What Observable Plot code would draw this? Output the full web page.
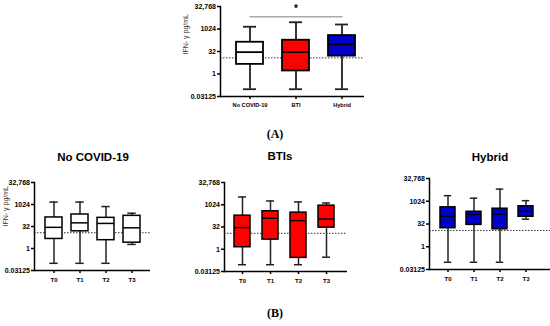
<!DOCTYPE html>
<html><head><meta charset="utf-8">
<script src="https://cdn.jsdelivr.net/npm/d3@7"></script>
<script src="https://cdn.jsdelivr.net/npm/@observablehq/plot@0.6"></script>
<style>
body{margin:0;background:#fff;}
#fig{position:relative;width:550px;height:326px;overflow:hidden;font-family:"Liberation Sans",Arial,sans-serif;}
#fig svg{position:absolute;left:0;top:0;}
.lbl{position:absolute;transform:translate(-50%,-50%);white-space:nowrap;color:#000;}
.ttl{font-weight:bold;font-size:11.5px;font-family:"Liberation Sans",Arial,sans-serif;}
.pan{font-family:"Liberation Serif","Times New Roman",serif;font-size:12px;font-weight:bold;}
</style></head><body><div id="fig"></div>
<script>
// shared axis
const yTicks = [0.03125, 1, 32, 1024, 32768];
const yTickLabels = ["0.03125", "1", "32", "1024", "32,768"];
const threshold = 12;
const yLabel = "IFN- γ pg/mL";

// Panel A
const catsA = ["No COVID-19", "BTI", "Hybrid"];
const minA = [0.096, 0.096, 0.096];
const q1A = [4.4, 1.6, 15.7];
const medA = [29, 29, 98];
const q3A = [133, 181, 373];
const maxA = [1450, 2900, 2050];
const fillA = ["#ffffff", "#ff0000", "#0000c8"];
const sigLevel = 6700;
const sigStarLevel = 22000;
const sigMark = "*";

// Panel B
const timepoints = ["T0", "T1", "T2", "T3"];
const titleB1 = "No COVID-19", titleB2 = "BTIs", titleB3 = "Hybrid";
const minB1 = [0.097, 0.097, 0.097, 1.9];
const q1B1 = [4.5, 15, 3.7, 2.5];
const medB1 = [28, 57, 52, 26];
const q3B1 = [133, 212, 125, 171];
const maxB1 = [1500, 1500, 740, 260];

const minB2 = [0.09, 0.09, 0.09, 0.29];
const q1B2 = [1.37, 4.5, 0.26, 29];
const medB2 = [29, 125, 86, 112];
const q3B2 = [187, 372, 300, 890];
const maxB2 = [3450, 1850, 1580, 1350];

const minB3 = [0.094, 0.094, 0.094, 67];
const q1B3 = [16.8, 28, 14.4, 96];
const medB3 = [102, 138, 145, 220];
const q3B3 = [407, 206, 328, 475];
const maxB3 = [2400, 1630, 6500, 1120];

const fig = document.getElementById("fig");
const W = 550, H = 326;

function boxPanel(o) {
  const data = o.cats.map((c, i) => ({c, min: o.min[i], q1: o.q1[i], med: o.med[i], q3: o.q3[i], max: o.max[i], fill: o.fill[i]}));
  const [L, T, R, B] = o.frame;
  const sw = o.sw;
  const marks = [
    Plot.ruleY([threshold], {stroke: "#333", strokeDasharray: "1.5,1.5", strokeWidth: 1}),
    Plot.ruleX(data, {x: "c", y1: "min", y2: "max", stroke: "#222", strokeWidth: sw}),
    Plot.tickY(data, {x: "c", y: "min", stroke: "#222", strokeWidth: sw, insetLeft: o.cap, insetRight: o.cap}),
    Plot.tickY(data, {x: "c", y: "max", stroke: "#222", strokeWidth: sw, insetLeft: o.cap, insetRight: o.cap}),
    Plot.barY(data, {x: "c", y1: "q1", y2: "q3", fill: "fill", stroke: "#000", strokeWidth: sw}),
    Plot.tickY(data, {x: "c", y: "med", stroke: "#000", strokeWidth: sw}),
    Plot.frame({anchor: "left", stroke: "#000", strokeWidth: 1.5}),
    Plot.ruleY([yTicks[0]], {stroke: "#000", strokeWidth: 1.5}),
    Plot.axisY(yTicks, {tickFormat: d => yTickLabels[yTicks.indexOf(d)], tickSize: 3, tickPadding: 1.5, fontSize: 7, fontWeight: "bold", strokeWidth: 1.5, label: null}),
    Plot.axisX({tickSize: 3, tickPadding: o.xPad, fontSize: o.xFont, fontWeight: "bold", strokeWidth: 1.5, label: null})
  ];
  if (o.showLabel) {
    marks.push(Plot.text([yLabel], {text: d => d, frameAnchor: "left", dx: o.labelDx, dy: o.labelDy || 0, rotate: -90, fontSize: 7, fill: "#333"}));
  }
  if (o.extra) marks.push(...o.extra(data));
  const svg = Plot.plot({
    width: W, height: H,
    marginLeft: L, marginTop: T, marginRight: W - R, marginBottom: H - B,
    style: {background: "transparent", fontFamily: "'Liberation Sans', Arial, sans-serif", overflow: "visible"},
    x: {type: "band", domain: o.cats, range: o.range, padding: o.padding},
    y: {type: "log", base: 2, domain: [yTicks[0], yTicks[yTicks.length - 1]]},
    color: {type: "identity"},
    marks
  });
  fig.appendChild(svg);
}

// Panel A
boxPanel({
  cats: catsA, min: minA, q1: q1A, med: medA, q3: q3A, max: maxA, fill: fillA,
  frame: [220, 6, 364, 96], range: [216, 375], padding: 0.42, sw: 1.8, cap: 7,
  xPad: 4, xFont: 5.6, showLabel: true, labelDx: -35, labelDy: 3,
  extra: () => [
    Plot.line([{c: catsA[0], v: sigLevel}, {c: catsA[2], v: sigLevel}], {x: "c", y: "v", stroke: "#aaa", strokeWidth: 1.5}),
    Plot.text([{c: catsA[1], v: sigStarLevel, t: sigMark}], {x: "c", y: "v", text: "t", fontSize: 10, fontWeight: "bold"})
  ]
});

const redB = timepoints.map(() => "#ff0000");
const whiteB = timepoints.map(() => "#ffffff");
const blueB = timepoints.map(() => "#0000c8");

boxPanel({
  cats: timepoints, min: minB1, q1: q1B1, med: medB1, q3: q3B1, max: maxB1, fill: whiteB,
  frame: [34, 182, 150, 270], range: [35.2, 149.6], padding: 0.35, sw: 1.5, cap: 4.3,
  xPad: 4, xFont: 6, showLabel: true, labelDx: -29
});
boxPanel({
  cats: timepoints, min: minB2, q1: q1B2, med: medB2, q3: q3B2, max: maxB2, fill: redB,
  frame: [224, 182, 347, 271], range: [221.5, 346.9], padding: 0.43, sw: 1.5, cap: 4,
  xPad: 4, xFont: 6, showLabel: false
});
boxPanel({
  cats: timepoints, min: minB3, q1: q1B3, med: medB3, q3: q3B3, max: maxB3, fill: blueB,
  frame: [429, 178, 550, 269], range: [426.8, 546], padding: 0.43, sw: 1.5, cap: 3.8,
  xPad: 4, xFont: 6, showLabel: false
});

function label(text, x, y, cls) {
  const d = document.createElement("div");
  d.className = "lbl " + cls;
  d.style.left = x + "px"; d.style.top = y + "px";
  d.textContent = text;
  fig.appendChild(d);
}
label("(A)", 275, 134, "pan");
label("(B)", 275, 313, "pan");
label(titleB1, 93, 157, "ttl");
label(titleB2, 280, 156, "ttl");
label(titleB3, 490, 157, "ttl");
</script></body></html>
